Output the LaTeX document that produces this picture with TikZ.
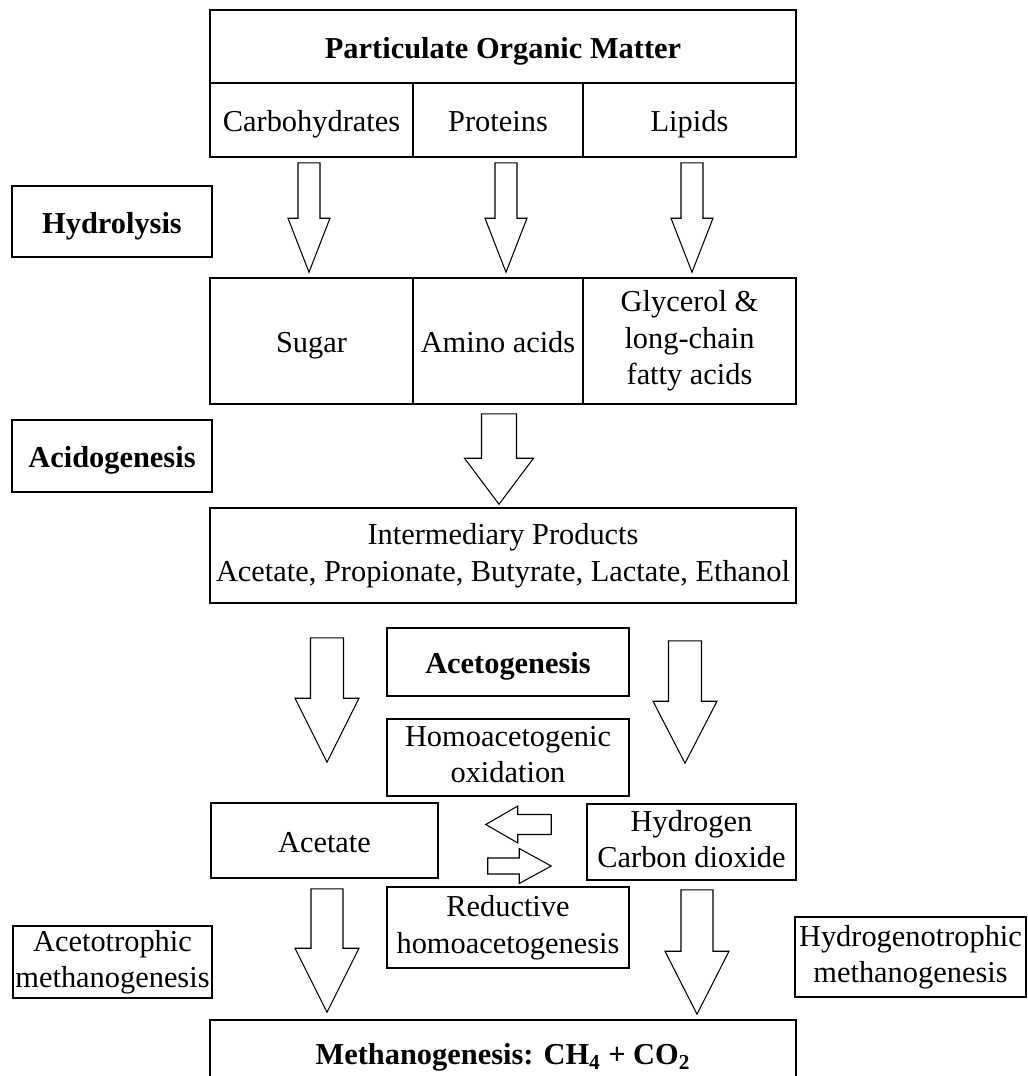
\documentclass[tikz,border=0pt]{standalone}
\usepackage{fontspec}
\setmainfont{Liberation Serif}
\usetikzlibrary{calc}

\tikzset{
  box/.style={draw, line width=0.9pt, align=center, inner sep=0pt,
    execute at begin node={\rule{0pt}{17pt}},
    execute at end node={\rule[-3.4pt]{0pt}{3.4pt}}},
  stagebox/.style={box, font=\fontsize{17.3}{20.8}\selectfont\bfseries},
  blockarrow/.style={draw, line width=0.6pt, fill=white, line join=miter},
}

% hollow block arrow: start, tip, shaft half-width, head half-width, head length (cm)
\newcommand\fatarrow[5]{%
  \path #1 coordinate (fa-s) #2 coordinate (fa-t);
  \coordinate (fa-h) at ($(fa-t)!#5cm!(fa-s)$);
  \draw[blockarrow] ($(fa-s)!#3cm!90:(fa-t)$) -- ($(fa-h)!#3cm!90:(fa-t)$)
    -- ($(fa-h)!#4cm!90:(fa-t)$) -- (fa-t) -- ($(fa-h)!#4cm!-90:(fa-t)$)
    -- ($(fa-h)!#3cm!-90:(fa-t)$) -- ($(fa-s)!#3cm!-90:(fa-t)$) -- cycle;}

\begin{document}
\begin{tikzpicture}[x=0.02cm, y=0.02cm, font=\fontsize{17.3}{20.8}\selectfont]
    \useasboundingbox (0,0) rectangle (1028,-1076);
    \clip (0,0) rectangle (1028,-1076);
    \node[stagebox, minimum width=11.72cm, minimum height=1.46cm] (pom) at (503,-46.5) {Particulate Organic Matter};
    \node[box, minimum width=4.06cm, minimum height=1.48cm] (carb) at (311.5,-120) {Carbohydrates};
    \node[box, minimum width=3.40cm, minimum height=1.48cm] (prot) at (498,-120) {Proteins};
    \node[box, minimum width=4.26cm, minimum height=1.48cm] (lip) at (689.5,-120) {Lipids};
    \node[stagebox, minimum width=4cm, minimum height=1.42cm] (hydro) at (112,-221.5) {Hydrolysis};
    \node[box, minimum width=4.06cm, minimum height=2.52cm] (sugar) at (311.5,-341) {Sugar};
    \node[box, minimum width=3.40cm, minimum height=2.52cm] (amino) at (498,-341) {Amino acids};
    \node[box, minimum width=4.26cm, minimum height=2.52cm] (glyc) at (689.5,-341) {Glycerol \&\\long-chain\\fatty acids};
    \node[stagebox, minimum width=4cm, minimum height=1.44cm] (acido) at (112,-456) {Acidogenesis};
    \node[box, minimum width=11.72cm, minimum height=1.9cm] (inter) at (503,-555.5) {Intermediary Products\\Acetate, Propionate, Butyrate, Lactate, Ethanol};
    \node[stagebox, minimum width=4.84cm, minimum height=1.36cm] (aceto) at (508,-662) {Acetogenesis};
    \node[box, minimum width=4.84cm, minimum height=1.54cm] (homox) at (508,-757.5) {Homoacetogenic\\oxidation};
    \node[box, minimum width=4.54cm, minimum height=1.5cm] (acetate) at (324.5,-840.5) {Acetate};
    \node[box, minimum width=4.18cm, minimum height=1.52cm] (hyd) at (691.5,-842) {Hydrogen\\Carbon dioxide};
    \node[box, minimum width=4.84cm, minimum height=1.62cm] (reduct) at (508,-927.5) {Reductive\\homoacetogenesis};
    \node[box, minimum width=3.98cm, minimum height=1.44cm] (acetotr) at (112.5,-962) {Acetotrophic\\methanogenesis};
    \node[box, minimum width=4.62cm, minimum height=1.6cm] (hydrot) at (910.5,-957) {Hydrogenotrophic\\methanogenesis};
    \node[stagebox, minimum width=11.72cm, minimum height=1.32cm] (methano) at (503,-1053) {Methanogenesis: CH\textsubscript{4} + CO\textsubscript{2}};
    \fatarrow{($(carb.south)+(-2.5,-5)$)}{($(sugar.north)+(-2.5,5)$)}{0.22}{0.42}{1.08}
    \fatarrow{($(prot.south)+(8,-5)$)}{($(amino.north)+(8,5)$)}{0.22}{0.42}{1.08}
    \fatarrow{($(lip.south)+(2.5,-5)$)}{($(glyc.north)+(2.5,5)$)}{0.22}{0.42}{1.08}
    \fatarrow{($(amino.south)+(1,-9)$)}{($(inter.north)+(-4,3)$)}{0.35}{0.69}{0.92}
    \fatarrow{($(inter.south)+(-176,-34)$)}{($(acetate.north)+(2.5,40)$)}{0.33}{0.64}{1.28}
    \fatarrow{($(inter.south)+(182,-37)$)}{($(hyd.north)+(-6.5,40)$)}{0.33}{0.64}{1.24}
    \fatarrow{($(hyd.west)+(-35,17.5)$)}{($(acetate.east)+(47,16)$)}{0.2}{0.37}{0.64}
    \fatarrow{($(acetate.east)+(49,-25.5)$)}{($(hyd.west)+(-35,-24)$)}{0.16}{0.35}{0.64}
    \fatarrow{($(acetate.south)+(2.5,-10)$)}{($(methano.north)+(-176,7)$)}{0.32}{0.64}{1.28}
    \fatarrow{($(hyd.south)+(5.5,-9)$)}{($(methano.north)+(194,5)$)}{0.32}{0.64}{1.26}
\end{tikzpicture}
\end{document}
